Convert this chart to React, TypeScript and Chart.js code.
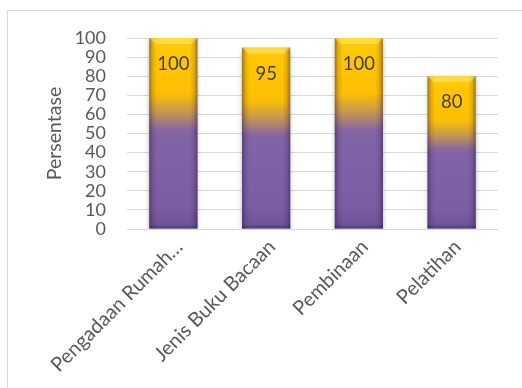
import { useEffect, useRef } from 'react';
import { Chart, registerables } from 'chart.js';

Chart.register(...registerables);

const categories = ['Pengadaan Rumah…', 'Jenis Buku Bacaan', 'Pembinaan', 'Pelatihan'];
const values = [100, 95, 100, 80];
const yAxisTitle = 'Persentase';
const yMin = 0;
const yMax = 100;
const yStep = 10;

const FONT = 'Lato';

function barGradient(ctx: any) {
  const chart = ctx.chart;
  const area = chart.chartArea;
  if (!area) return '#8064A8';
  const ys = chart.scales.y;
  const v = ctx.raw as number;
  const top = ys.getPixelForValue(v);
  const base = ys.getPixelForValue(0);
  const g = chart.ctx.createLinearGradient(0, base, 0, top);
  g.addColorStop(0, '#6C5296');
  g.addColorStop(0.12, '#7A5EA4');
  g.addColorStop(0.48, '#8064A8');
  g.addColorStop(0.52, '#8866A0');
  g.addColorStop(0.61, '#C49652');
  g.addColorStop(0.71, '#FDBF06');
  g.addColorStop(0.9, '#FFC600');
  g.addColorStop(1, '#FFCC10');
  return g;
}

const barEffects = {
  id: 'barEffects',
  beforeDatasetDraw(chart: any) {
    const c = chart.ctx;
    c.save();
    c.shadowColor = 'rgba(0,0,0,0.35)';
    c.shadowBlur = 5;
    c.shadowOffsetX = 0;
    c.shadowOffsetY = 2;
  },
  afterDatasetDraw(chart: any) {
    const c = chart.ctx;
    c.restore();
    const meta = chart.getDatasetMeta(0);
    meta.data.forEach((bar: any) => {
      const left = bar.x - bar.width / 2;
      const right = bar.x + bar.width / 2;
      const top = bar.y;
      const bottom = bar.base;
      const w = right - left;
      c.save();
      const hg = c.createLinearGradient(left, 0, right, 0);
      hg.addColorStop(0, 'rgba(40,20,60,0.45)');
      hg.addColorStop(0.08, 'rgba(40,20,60,0.12)');
      hg.addColorStop(0.16, 'rgba(0,0,0,0)');
      hg.addColorStop(0.84, 'rgba(0,0,0,0)');
      hg.addColorStop(0.92, 'rgba(40,20,60,0.12)');
      hg.addColorStop(1, 'rgba(40,20,60,0.45)');
      c.fillStyle = hg;
      c.fillRect(left, top, w, bottom - top);
      const bev = 6;
      c.beginPath();
      c.moveTo(left, top);
      c.lineTo(right, top);
      c.lineTo(right - bev, top + bev);
      c.lineTo(left + bev, top + bev);
      c.closePath();
      c.fillStyle = 'rgba(255,240,120,0.45)';
      c.fill();
      c.fillStyle = 'rgba(40,20,60,0.25)';
      c.fillRect(left, bottom - 3, w, 3);
      c.restore();
    });
  },
};

const dataLabels = {
  id: 'dataLabels',
  afterDatasetsDraw(chart: any) {
    const c = chart.ctx;
    const meta = chart.getDatasetMeta(0);
    c.save();
    c.font = `18.5px ${FONT}`;
    c.fillStyle = '#404040';
    c.textAlign = 'center';
    c.textBaseline = 'middle';
    meta.data.forEach((bar: any, i: number) => {
      c.fillText(String(values[i]), bar.x, bar.y + 26);
    });
    c.restore();
  },
};

export default function App() {
  const ref = useRef<HTMLCanvasElement>(null);

  useEffect(() => {
    document.body.style.margin = '0';
    const canvas = ref.current;
    if (!canvas) return;
    const chart = new Chart(canvas, {
      type: 'bar',
      data: {
        labels: categories,
        datasets: [
          {
            data: values,
            backgroundColor: barGradient,
            borderWidth: 0,
            categoryPercentage: 1,
            barPercentage: 0.52,
          },
        ],
      },
      options: {
        animation: false,
        responsive: false,
        devicePixelRatio: 1,
        layout: { padding: { left: 40, top: 38, right: 24, bottom: 0 } },
        plugins: {
          legend: { display: false },
          tooltip: { enabled: false },
        },
        scales: {
          x: {
            grid: { display: false, drawTicks: false },
            border: { display: false },
            ticks: {
              autoSkip: false,
              maxRotation: 45,
              minRotation: 45,
              padding: 6,
              labelOffset: 6,
              color: '#595959',
              font: { family: FONT, size: 20 },
            },
            afterFit: (scale: any) => {
              scale.height = 159;
            },
          },
          y: {
            min: yMin,
            max: yMax,
            grid: { color: '#d9d9d9', lineWidth: 1, drawTicks: false },
            border: { display: false },
            ticks: {
              stepSize: yStep,
              autoSkip: false,
              padding: 21,
              color: '#595959',
              font: { family: FONT, size: 18, lineHeight: 1 },
            },
            title: {
              display: true,
              text: yAxisTitle,
              color: '#595959',
              font: { family: FONT, size: 19.5 },
              padding: { top: 3, bottom: 4 },
            },
            afterFit: (scale: any) => {
              scale.width = 87;
            },
          },
        },
      },
      plugins: [barEffects, dataLabels],
    });
    return () => chart.destroy();
  }, []);

  return (
    <div style={{ position: 'fixed', left: 0, top: 0, width: 522, height: 388, background: '#fff', overflow: 'hidden' }}>
      <div
        style={{
          position: 'absolute',
          left: 7,
          top: 10,
          width: 540,
          height: 400,
          border: '1px solid #d9d9d9',
          boxSizing: 'border-box',
        }}
      />
      <canvas ref={ref} width={522} height={388} style={{ position: 'absolute', left: 0, top: 0, width: 522, height: 388 }} />
    </div>
  );
}
